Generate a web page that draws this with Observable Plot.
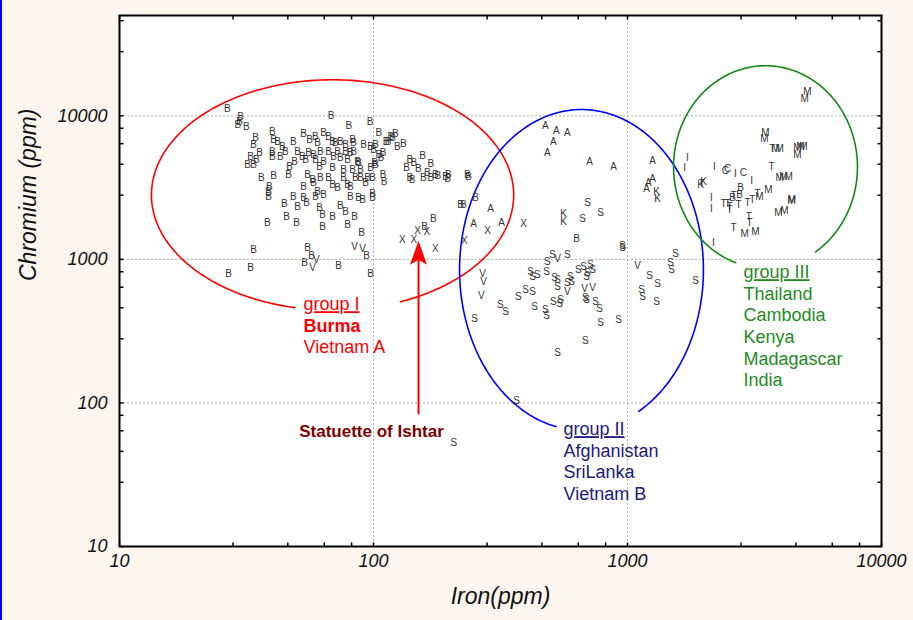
<!DOCTYPE html>
<html><head><meta charset="utf-8">
<script src="https://cdn.jsdelivr.net/npm/d3@7"></script>
<script src="https://cdn.jsdelivr.net/npm/@observablehq/plot@0.6"></script>
<style>
html,body{margin:0;padding:0;background:#fdf6ef;}
#wrap{position:relative;width:913px;height:620px;overflow:hidden;}
#edge{position:absolute;left:0;top:0;width:2px;height:620px;background:#0000ff;z-index:2;}
svg{display:block;}
</style></head>
<body><div id="wrap"><div id="edge"></div></div>
<script>
// ---------- data (Iron ppm, Chromium ppm) ----------
const burma = [[26.6,11200],[30,9840],[29.7,9080],[29.2,8650],[31.6,8380],[68,10000],[80,8520],[97,9080],[40,7730],[34.3,7020],[33.7,6270],[40.4,6800],[41.9,6590],[43.8,6080],[45,5610],[48.4,6590],[53,7490],[56,6800],[59,7140],[60.2,6480],[63.6,7610],[66.5,7140],[69,6590],[70.8,6480],[74.1,6590],[77.6,6270],[82.7,6800],[83.5,6480],[91.3,6270],[97.3,6080],[102,6270],[105,7610],[114,6590],[117,7140],[122,7490],[124,6080],[131,6380],[35.6,5520],[32.8,5170],[34.6,4930],[31.9,4550],[33.7,4550],[40,5610],[40,5170],[43,5170],[50.2,5610],[52.5,5170],[54,4930],[55.5,5520],[58.1,5340],[59.1,4930],[61.8,5610],[63.6,4770],[66.5,5610],[69.6,5170],[72.2,5610],[74.1,5090],[77.6,5610],[81.1,5520],[83.5,5610],[86.5,4770],[79,4930],[100,5790],[105,5340],[107,5090],[109,5520],[102,4550],[46.7,4410],[46.3,3870],[48.9,4770],[55,3870],[61.3,4410],[69,4340],[76.2,4200],[82.7,4200],[87.3,4700],[88.9,4200],[97.3,4340],[101,4700],[36.2,3690],[40.4,3810],[57.5,3570],[58.1,3410],[61.8,3690],[66.5,3690],[69,3300],[72.2,3150],[76.2,3690],[79,3300],[81.1,3200],[84.9,3690],[88.9,3690],[94.7,3690],[99.1,3690],[109,3870],[110,3460],[93,3410],[38.9,3200],[38.6,2720],[38.6,2950],[53,3200],[53,2680],[59.1,2720],[60.2,2950],[63.6,2810],[48.4,2720],[44.6,2430],[50.2,2320],[54.5,2470],[61.3,2280],[63,2030],[69,1970],[74.1,2360],[77.6,2140],[84.2,1970],[81.1,2720],[87.3,2680],[90.5,2590],[99.1,2860],[99.1,2680],[38.2,1790],[45.5,1970],[49.8,1790],[63,1680],[79,1730],[89.7,1530],[33.7,1160],[32.8,870],[26.9,800],[55,1200],[57,1055],[53.5,940],[72.8,900],[93.9,1055],[97.3,800],[112,6590],[119,7020],[156,5260],[168,4620],[139,4930],[135,4340],[144,4700],[150,4270],[139,3690],[142,3570],[157,3690],[168,3690],[163,4000],[175,3870],[179,3810],[192,3750],[196,3630],[197,3870],[234,3870],[237,3750],[252,2680],[226,2390],[220,2390],[172,1910],[159,1680],[630,1390],[2790,3150],[2760,2810],[2590,2680]];
const vietnam = [[59.6,990],[57.5,870],[84.2,1220],[90.5,1180],[269,790],[271,694],[266,554],[530,1005],[580,591],[677,620],[728,630],[1095,900]];
const statuette = [[130,1360],[144,1360],[149,1580],[162,1550],[175,1180],[228,1340],[281,1580],[390,1760]];
const afghanistan = [[289,2240],[248,1760],[319,1790],[475,8520],[525,7860],[580,7610],[511,6590],[484,5520],[709,4770],[881,4410],[1254,4850],[1254,3630],[1209,3410],[1188,3100]];
const kenya = [[1301,2950],[1313,2640],[560,2070],[560,1820],[1992,3460],[1938,3300]];
const sriLanka = [[696,2470],[783,2100],[665,1910],[956,1240],[956,1210],[507,1070],[580,1070],[484,958],[480,815],[415,815],[442,776],[423,753],[516,741],[530,716],[530,641],[580,683],[602,694],[596,753],[641,841],[671,884],[715,911],[728,841],[696,803],[690,753],[372,546],[397,610],[423,591],[316,479],[331,429],[431,465],[475,442],[480,402],[511,504],[545,519],[540,488],[683,537],[690,519],[748,504],[776,450],[783,359],[922,377],[683,269],[530,225],[250,383],[366,104],[207,53],[1221,765],[1313,673],[1136,610],[1147,546],[1301,504],[1477,942],[1490,841],[1545,1089],[1853,706]];
const madagascar = [[5110,14700],[4980,13100],[3490,7610],[3460,6910],[3830,5890],[3970,5890],[4670,5980],[4800,6080],[4930,6080],[4670,5340],[3970,3690],[4110,3750],[4310,3750],[3590,3040],[3310,2720],[4420,2550],[4440,2590],[3930,2100],[4150,2170],[2890,1500],[3190,1550]];
const thailand = [[3720,5890],[3690,4410],[3250,2860],[3100,2590],[2970,2470],[2615,2760],[2390,2430],[2480,2430],[2520,2320],[2520,2200],[2735,2390],[3000,1970],[3025,1790],[2615,1650],[1960,3350]];
const india = [[1722,5090],[1677,4340],[2200,4410],[2660,3940],[3080,3520],[2140,2680],[2140,2240],[2180,1300]];
const cambodia = [[2430,4130],[2480,4270],[2860,4000]];

const seriesLetters = [["B",burma],["V",vietnam],["X",statuette],["A",afghanistan],["K",kenya],["S",sriLanka],["M",madagascar],["T",thailand],["I",india],["C",cambodia]];

// group ellipses (log-log), centre in ppm, half-axes in decades
const ellipseCentreFe = [69, 659, 3494];
const ellipseCentreCr = [2810, 846, 4406];
const ellipseHalfFe = [0.713, 0.480, 0.362];
const ellipseHalfCr = [0.8025, 1.1165, 0.7048];
const ellipseGapDeg = [[68,102],[62,102],[57,109]];

const groupTexts = ["group I\nBurma\nVietnam A", "group II\nAfghanistan\nSriLanka\nVietnam B", "group III\nThailand\nCambodia\nKenya\nMadagascar\nIndia"];
const groupAnchorFe = [53, 560, 2862];
const groupAnchorCr = [566, 76.3, 946];
const statuetteLabel = {text: "Statuette of Ishtar", fe: 98.2, cr: 62.9};
const arrowTip = {fe: 150.4, cr: 1346};
const arrowTail = {fe: 150.4, cr: 82.6};

const xTickLabels = [10, 100, 1000, 10000];
const yTickLabels = [10, 100, 1000, 10000];
const minorSteps = [1, 2.8, 4.6, 6.4, 8.2];

// ---------- derived ----------
const points = seriesLetters.flatMap(([l, arr]) => arr.map(([fe, cr]) => ({fe, cr, l})));
const xTicks = [10, 100, 1000].flatMap(d => minorSteps.map(s => d * s)).concat([10000]);
const yTicks = [10, 100, 1000, 10000].flatMap(d => minorSteps.map(s => d * s)).filter(v => v <= 50000);

const groupColors = ["#ff0000", "#0000ff", "#128a12"];
const groupTextColors = ["#ff0000", "#1a1a80", "#1f8c1f"];

function ellipsePath(i) {
  const [g0, g1] = ellipseGapDeg[i];
  const lx = Math.log10(ellipseCentreFe[i]), ly = Math.log10(ellipseCentreCr[i]);
  const pts = [];
  for (let t = g1; t <= g0 + 360; t += 1) {
    const a = t * Math.PI / 180;
    pts.push({fe: 10 ** (lx + ellipseHalfFe[i] * Math.cos(a)), cr: 10 ** (ly - ellipseHalfCr[i] * Math.sin(a))});
  }
  return pts;
}

const tickUp = {draw(c) { c.moveTo(0, 0); c.lineTo(0, -4); }};
const tickDown = {draw(c) { c.moveTo(0, 0); c.lineTo(0, 4); }};
const tickRight = {draw(c) { c.moveTo(0, 0); c.lineTo(4, 0); }};
const tickLeft = {draw(c) { c.moveTo(0, 0); c.lineTo(-4, 0); }};
const arrowHead = {draw(c) { c.moveTo(0, 0); c.lineTo(8.5, 24); c.lineTo(0, 19); c.lineTo(-8.5, 24); c.closePath(); }};

const font = "Liberation Sans, Arial, Helvetica, sans-serif";
const grid = {stroke: "#b0b0b0", strokeDasharray: "2,2", strokeWidth: 1};

const chart = Plot.plot({
  width: 913, height: 620,
  marginLeft: 119, marginRight: 32, marginTop: 15, marginBottom: 74,
  style: {background: "transparent", fontFamily: font},
  x: {type: "log", domain: [10, 10000], axis: null},
  y: {type: "log", domain: [10, 50000], axis: null},
  marks: [
    Plot.frame({fill: "white", stroke: "none"}),
    Plot.ruleX([100, 1000], grid),
    Plot.ruleY([100, 1000, 10000], grid),
    ...[0, 1, 2].map(i => Plot.line(ellipsePath(i), {x: "fe", y: "cr", stroke: groupColors[i], strokeWidth: 1.6, curve: "linear"})),
    Plot.text(points, {x: "fe", y: "cr", text: "l", fontSize: 10, fill: "#333"}),
    Plot.ruleX([arrowTail], {x: "fe", y1: "cr", y2: () => arrowTip.cr * 0.8, stroke: "#ff0000", strokeWidth: 2}),
    Plot.dot([arrowTip], {x: "fe", y: "cr", symbol: arrowHead, r: 5, fill: "#ff0000", stroke: "none"}),
    ...[0, 1, 2].map(i => Plot.text([groupTexts[i]], {x: () => groupAnchorFe[i], y: () => groupAnchorCr[i], text: d => d, textAnchor: "start", lineAnchor: "top", lineHeight: 1.2, fontSize: 18, fill: groupTextColors[i], ariaLabel: "note"})),
    Plot.text([statuetteLabel], {x: "fe", y: "cr", text: "text", fontSize: 17, fontWeight: "bold", fill: "#7f0000", ariaLabel: "note"}),
    Plot.dot(xTicks, {x: d => d, frameAnchor: "bottom", symbol: tickUp, r: 1, fill: "none", stroke: "black"}),
    Plot.dot(xTicks, {x: d => d, frameAnchor: "top", symbol: tickDown, r: 1, fill: "none", stroke: "black"}),
    Plot.dot(yTicks, {y: d => d, frameAnchor: "left", symbol: tickRight, r: 1, fill: "none", stroke: "black"}),
    Plot.dot(yTicks, {y: d => d, frameAnchor: "right", symbol: tickLeft, r: 1, fill: "none", stroke: "black"}),
    Plot.text(xTickLabels, {x: d => d, frameAnchor: "bottom", dy: 20, text: d => String(d), fontSize: 18, fontStyle: "italic", fill: "#111"}),
    Plot.text(yTickLabels, {y: d => d, frameAnchor: "left", dx: -12, textAnchor: "end", text: d => String(d), fontSize: 18, fontStyle: "italic", fill: "#111"}),
    Plot.text(["Iron(ppm)"], {frameAnchor: "bottom", dy: 57, text: d => d, fontSize: 23, fontStyle: "italic", fill: "#111"}),
    Plot.text(["Chromium (ppm)"], {frameAnchor: "left", dx: -91, rotate: -90, text: d => d, fontSize: 23, fontStyle: "italic", fill: "#111"}),
    Plot.frame({stroke: "black", strokeWidth: 2})
  ]
});

document.getElementById("wrap").appendChild(chart);

// styling of label lines
chart.querySelectorAll("tspan").forEach(n => {
  const t = n.textContent;
  if (t.startsWith("group")) n.setAttribute("text-decoration", "underline");
  if (t === "Burma") n.setAttribute("font-weight", "bold");
});
// white boxes behind notes
chart.querySelectorAll('g[aria-label="note"]').forEach(g => {
  const b = g.getBBox();
  const r = document.createElementNS("http://www.w3.org/2000/svg", "rect");
  r.setAttribute("x", b.x - 8);
  r.setAttribute("y", b.y - 6);
  r.setAttribute("width", b.width + 20);
  r.setAttribute("height", b.height + 10);
  r.setAttribute("fill", "white");
  if (g.getAttribute("transform")) r.setAttribute("transform", g.getAttribute("transform"));
  g.parentNode.insertBefore(r, g);
});
</script>
</body></html>
